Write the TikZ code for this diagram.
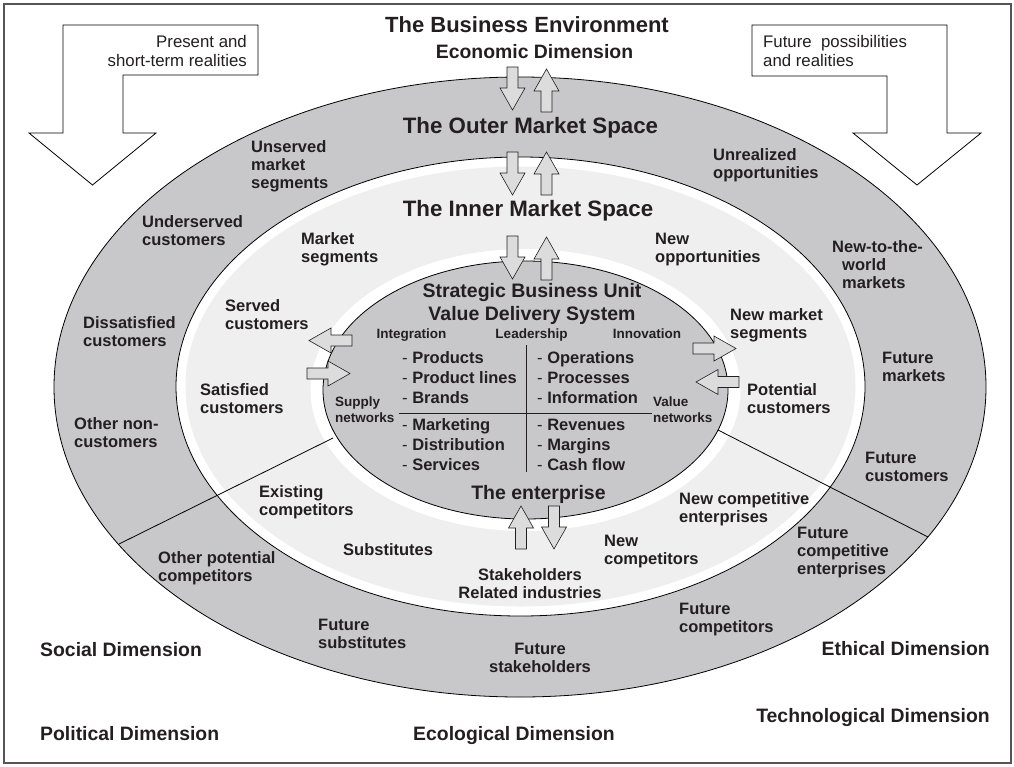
\documentclass[tikz,border=0pt]{standalone}
\usepackage{fontspec}
\setmainfont{Liberation Sans}
\definecolor{ringgray}{HTML}{C8C8CA}
\definecolor{innergray}{HTML}{EFEFF0}
\definecolor{arrowgray}{HTML}{DCDCDD}
\definecolor{inkgray}{HTML}{231F20}
\definecolor{framegray}{HTML}{555555}
\tikzset{
  ringtext/.style={font=\fontsize{16.5}{18}\selectfont\bfseries, align=left, anchor=base west, inner sep=0pt, text=inkgray},
  dimtext/.style={font=\fontsize{19.4}{22}\selectfont\bfseries, inner sep=0pt, text=inkgray},
  spacetext/.style={font=\fontsize{22.3}{26}\selectfont\bfseries, anchor=base, inner sep=0pt, text=inkgray},
  sbutext/.style={font=\fontsize{19.5}{23}\selectfont\bfseries, align=center, anchor=base, inner sep=0pt, text=inkgray},
  smalltext/.style={font=\fontsize{13.5}{15.5}\selectfont\bfseries, inner sep=0pt, text=inkgray},
  listtext/.style={font=\fontsize{16.5}{20}\selectfont\bfseries, align=left, anchor=base west, inner sep=0pt, text=inkgray},
  notetext/.style={font=\fontsize{16.8}{19.4}\selectfont, inner sep=0pt, text=inkgray},
  flow/.style={draw=inkgray, fill=arrowgray, line width=0.6pt},
  flowarrow/.pic={\draw[flow] (0,-5.5) -- (21,-5.5) -- (21,-12.5) -- (43,0) -- (21,12.5) -- (21,5.5) -- (0,5.5) -- cycle;},
  bigarrow/.style={draw=black, fill=white, line width=0.8pt},
  rim/.style={draw=black, line width=0.8pt}
}
\begin{document}
\begin{tikzpicture}[x=1pt,y=-1pt]
 \useasboundingbox (0,0) rectangle (1014,766);
 \draw[framegray,line width=1.2pt] (4,4) rectangle (1011,763);
 \draw[rim,fill=ringgray] (520,387) ellipse [x radius=466pt, y radius=310pt];
 \draw[rim,fill=white] (520.5,386.5) ellipse [x radius=344.5pt, y radius=229.5pt];
 \fill[innergray] (520.5,386.5) ellipse [x radius=335pt, y radius=220pt];
 \fill[white] (525.5,390) ellipse [x radius=215pt, y radius=141pt];
 \draw[rim,fill=ringgray] (525.5,390) ellipse [x radius=202.5pt, y radius=129pt];
 \coordinate (sbuleft) at (333,438);
 \coordinate (outerleft) at (119,544);
 \coordinate (sburight) at (718,430);
 \coordinate (outerright) at (928,537);
 \draw[line width=0.8pt] (sbuleft) -- (outerleft);
 \draw[line width=0.8pt] (sburight) -- (outerright);
 \draw[inkgray,line width=0.9pt] (526,345) -- (526,472);
 \draw[inkgray,line width=0.9pt] (399,413) -- (652,413);
 \pic[rotate=-90] at (512.5,67) {flowarrow};
 \pic[rotate=90] at (546.5,112) {flowarrow};
 \pic[rotate=-90] at (512.5,152) {flowarrow};
 \pic[rotate=90] at (546.5,195) {flowarrow};
 \pic[rotate=-90] at (512.5,236) {flowarrow};
 \pic[rotate=90] at (546.5,280) {flowarrow};
 \pic[rotate=90] at (521,549) {flowarrow};
 \pic[rotate=-90] at (554,506) {flowarrow};
 \pic[rotate=180] at (352,340.5) {flowarrow};
 \pic at (307,373.5) {flowarrow};
 \pic at (693,348.5) {flowarrow};
 \pic[rotate=180] at (739,382) {flowarrow};
 \draw[bigarrow] (63,25) -- (258,25) -- (258,75) -- (123,75) -- (123,133) -- (156,133) -- (92.5,185) -- (29,133) -- (63,133) -- cycle;
 \draw[bigarrow] (752,25) -- (947,25) -- (947,133) -- (981,133) -- (917,185) -- (853,133) -- (887,133) -- (887,76) -- (752,76) -- cycle;
 \node[notetext,align=right,anchor=base east] (present) at (247,66.7) {Present and\\short-term realities};
 \node[notetext,align=left,anchor=base west] (future) at (763,66.5) {Future~~possibilities\\and realities};
 \node[dimtext,font=\fontsize{22}{25}\selectfont\bfseries,anchor=base] (business) at (527,32) {The Business Environment};
 \node[dimtext,anchor=base] (economic) at (534.5,58) {Economic Dimension};
 \node[spacetext] (outerspace) at (530.5,133) {The Outer Market Space};
 \node[spacetext] (innerspace) at (528,216) {The Inner Market Space};
 \node[sbutext] (sbu) at (532,320) {Strategic Business Unit\\Value Delivery System};
 \node[smalltext,anchor=base] (integration) at (411.5,338) {Integration};
 \node[smalltext,anchor=base] (leadership) at (531.5,338) {Leadership};
 \node[smalltext,anchor=base] (innovation) at (647,338) {Innovation};
 \node[listtext] (products) at (402,403) {{\mdseries -} Products\\{\mdseries -} Product lines\\{\mdseries -} Brands};
 \node[listtext] (marketing) at (402,470) {{\mdseries -} Marketing\\{\mdseries -} Distribution\\{\mdseries -} Services};
 \node[listtext] (operations) at (537,403) {{\mdseries -} Operations\\{\mdseries -} Processes\\{\mdseries -} Information};
 \node[listtext] (revenues) at (537,470) {{\mdseries -} Revenues\\{\mdseries -} Margins\\{\mdseries -} Cash flow};
 \node[smalltext,align=left,anchor=base west] (supply) at (335,422) {Supply\\networks};
 \node[smalltext,align=left,anchor=base west] (value) at (653,422) {Value\\networks};
 \node[sbutext] (enterprise) at (538.5,499) {The enterprise};
 \node[ringtext,align=center,anchor=base] (stakeholders) at (530,598) {Stakeholders\\Related industries};
 \node[ringtext] (unserved) at (251,188) {Unserved\\market\\segments};
 \node[ringtext] (unrealized) at (713,178) {Unrealized\\opportunities};
 \node[ringtext] (underserved) at (142,245) {Underserved\\customers};
 \node[ringtext] (dissatisfied) at (83,346) {Dissatisfied\\customers};
 \node[ringtext] (othernon) at (74,447) {Other non-\\customers};
 \node[ringtext] (newworld) at (832,288) {New-to-the-\\\hspace*{10pt}world\\\hspace*{10pt}markets};
 \node[ringtext] (futuremarkets) at (882,381) {Future\\markets};
 \node[ringtext] (futurecustomers) at (865,481) {Future\\customers};
 \node[ringtext] (futurecompetitive) at (797,574) {Future\\competitive\\enterprises};
 \node[ringtext] (futurecompetitors) at (679,632) {Future\\competitors};
 \node[ringtext,align=center,anchor=base] (futurestake) at (540,672) {Future\\stakeholders};
 \node[ringtext] (futuresubst) at (318,648) {Future\\substitutes};
 \node[ringtext] (otherpotential) at (158,581) {Other potential\\competitors};
 \node[ringtext] (marketseg) at (301,262) {Market\\segments};
 \node[ringtext] (newopp) at (655,262) {New\\opportunities};
 \node[ringtext] (served) at (225,329) {Served\\customers};
 \node[ringtext] (satisfied) at (200,413) {Satisfied\\customers};
 \node[ringtext] (newmarket) at (730,338) {New market\\segments};
 \node[ringtext] (potential) at (747,413) {Potential\\customers};
 \node[ringtext] (existing) at (259,515) {Existing\\competitors};
 \node[ringtext] (substitutes) at (343,555) {Substitutes};
 \node[ringtext] (newcompetitive) at (679,522) {New competitive\\enterprises};
 \node[ringtext] (newcompetitors) at (604,564) {New\\competitors};
 \node[dimtext,anchor=base west] (social) at (40,656) {Social Dimension};
 \node[dimtext,anchor=base west] (political) at (40,740) {Political Dimension};
 \node[dimtext,anchor=base west] (ecological) at (413,740) {Ecological Dimension};
 \node[dimtext,anchor=base east] (technological) at (990,722) {Technological Dimension};
 \node[dimtext,anchor=base east] (ethical) at (990,655) {Ethical Dimension};
\end{tikzpicture}
\end{document}
